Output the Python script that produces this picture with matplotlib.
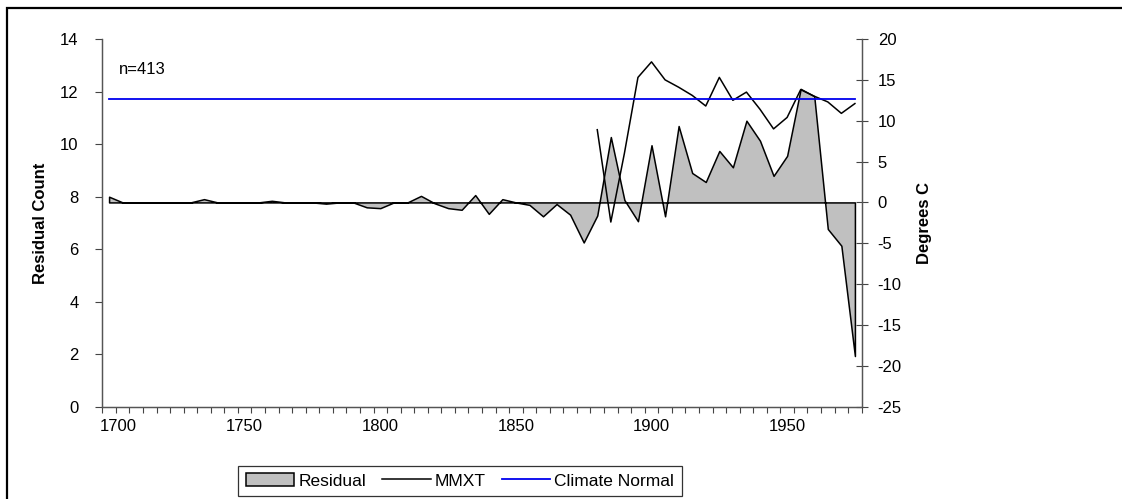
import matplotlib.pyplot as plt
import matplotlib.transforms as mtransforms
from matplotlib.patches import Rectangle

plt.rcParams['font.family'] = ['Liberation Sans', 'DejaVu Sans']
plt.rcParams['axes.unicode_minus'] = False

# data, one value every 5 years
years = list(range(1700, 1980, 5))
residual = [0.7, 0, 0, 0, 0, 0, 0, 0.4, 0, 0,
            0, 0, 0.2, 0, 0, 0, -0.15, 0, 0, -0.6,
            -0.7, 0, 0, 0.8, -0.1, -0.7, -0.9, 0.9, -1.4, 0.4,
            0, -0.3, -1.7, -0.2, -1.5, -4.9, -1.6, 8.0, 0.3, -2.3,
            7.0, -1.7, 9.35, 3.6, 2.5, 6.3, 4.3, 10.0, 7.55, 3.25,
            5.7, 13.9, 13.0, -3.25, -5.3, -18.8]
mmxt_years = list(range(1880, 1980, 5))
mmxt = [8.9, -2.4, 6.0, 15.3, 17.2, 15.0, 14.1, 13.1, 11.8, 15.3,
        12.5, 13.5, 11.4, 9.0, 10.4, 13.8, 13.0, 12.3, 10.9, 12.1]
climate_normal = 12.65
label_years = [1700, 1750, 1800, 1850, 1900, 1950]

fig = plt.figure(figsize=(11.22, 4.99), dpi=100)
ax = fig.add_axes([102.3 / 1122, 1 - 406.7 / 499, 759.4 / 1122, 367.7 / 499])
ax2 = ax.twinx()

# outer frame of the chart area
fig.patches.append(Rectangle((7 / 1122, -0.2), 1.2, 1.2 - 8 / 499, transform=fig.transFigure,
                             fill=False, edgecolor='black', linewidth=1.6))

area = ax2.fill_between(years, residual, 0, facecolor='#c0c0c0', edgecolor='black',
                        linewidth=1.1, label='Residual')
ax2.plot(mmxt_years, mmxt, color='black', linewidth=1.1, label='MMXT')
ax2.plot([years[0], years[-1]], [climate_normal, climate_normal], color='#0000ee',
         linewidth=1.3, label='Climate Normal')

ax.set_xlim(1697.5, 1977.5)
ax.set_ylim(0, 14)
ax.set_yticks(range(0, 15, 2))
ax2.set_ylim(-25, 20)
ax2.set_yticks(range(-25, 21, 5))

# category boundaries as tick marks, year labels in between
ax.set_xticks([1697.5 + 5 * i for i in range(len(years) + 1)])
ax.set_xticklabels([])
ax.set_xticks(label_years, minor=True)
ax.set_xticklabels([str(y) for y in label_years], minor=True)
ax.tick_params(axis='x', which='major', direction='out', length=4, width=0.8, color='#444444')
ax.tick_params(axis='x', which='minor', length=0, pad=9, labelsize=12)
ax.tick_params(axis='y', direction='out', length=5, width=0.8, color='#444444', pad=12, labelsize=12)
ax2.tick_params(axis='y', direction='inout', length=9, width=0.8, color='#444444', pad=7, labelsize=12)

first = ax.get_xticklabels(minor=True)[0]
first.set_transform(first.get_transform() + mtransforms.ScaledTranslation(9 / 100, 0, fig.dpi_scale_trans))

for a in (ax, ax2):
    a.spines['top'].set_visible(False)
    for s in ('left', 'right', 'bottom'):
        a.spines[s].set_color('#555555')
        a.spines[s].set_linewidth(0.9)

ax.set_ylabel('Residual Count', fontsize=12, fontweight='bold')
ax.yaxis.set_label_coords(-0.071, 0.5)
ax2.set_ylabel('Degrees C', fontsize=12, fontweight='bold', rotation=90)
ax2.yaxis.set_label_coords(1.073, 0.5)

ax.text(0.0224, 0.916, 'n=413', transform=ax.transAxes, fontsize=12, va='center', ha='left')

leg = ax2.legend(loc='center', bbox_to_anchor=(460 / 1122, 1 - 481 / 499), bbox_transform=fig.transFigure,
                 ncol=3, fontsize=12.5, frameon=True, fancybox=False, handlelength=2.8,
                 handletextpad=0.25, columnspacing=0.9, borderpad=0.45)
leg.get_frame().set_edgecolor('black')
leg.get_frame().set_linewidth(0.9)

fig.savefig('out.png', dpi=100)
